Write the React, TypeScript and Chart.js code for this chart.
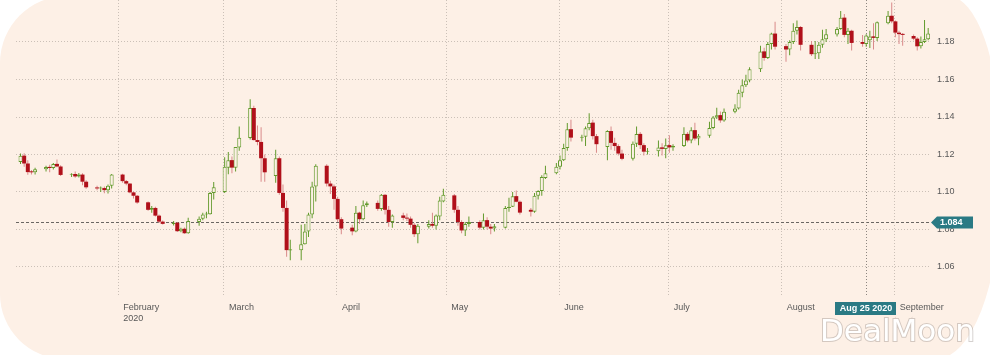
import React, { useEffect, useRef } from 'react';
import { Chart, registerables } from 'chart.js';

Chart.register(...registerables);

// ---------- data ----------
const dates = [
  '2020-01-06','2020-01-07','2020-01-08','2020-01-09','2020-01-10',
  '2020-01-13','2020-01-14','2020-01-15','2020-01-16','2020-01-17',
  '2020-01-20','2020-01-21','2020-01-22','2020-01-23','2020-01-24',
  '2020-01-27','2020-01-28','2020-01-29','2020-01-30','2020-01-31',
  '2020-02-03','2020-02-04','2020-02-05','2020-02-06','2020-02-07',
  '2020-02-10','2020-02-11','2020-02-12','2020-02-13','2020-02-14',
  '2020-02-17','2020-02-18','2020-02-19','2020-02-20','2020-02-21',
  '2020-02-24','2020-02-25','2020-02-26','2020-02-27','2020-02-28',
  '2020-03-02','2020-03-03','2020-03-04','2020-03-05','2020-03-06',
  '2020-03-09','2020-03-10','2020-03-11','2020-03-12','2020-03-13',
  '2020-03-16','2020-03-17','2020-03-18','2020-03-19','2020-03-20',
  '2020-03-23','2020-03-24','2020-03-25','2020-03-26','2020-03-27',
  '2020-03-30','2020-03-31','2020-04-01','2020-04-02','2020-04-03',
  '2020-04-06','2020-04-07','2020-04-08','2020-04-09','2020-04-10',
  '2020-04-13','2020-04-14','2020-04-15','2020-04-16','2020-04-17',
  '2020-04-20','2020-04-21','2020-04-22','2020-04-23','2020-04-24',
  '2020-04-27','2020-04-28','2020-04-29','2020-04-30','2020-05-01',
  '2020-05-04','2020-05-05','2020-05-06','2020-05-07','2020-05-08',
  '2020-05-11','2020-05-12','2020-05-13','2020-05-14','2020-05-15',
  '2020-05-18','2020-05-19','2020-05-20','2020-05-21','2020-05-22',
  '2020-05-25','2020-05-26','2020-05-27','2020-05-28','2020-05-29',
  '2020-06-01','2020-06-02','2020-06-03','2020-06-04','2020-06-05',
  '2020-06-08','2020-06-09','2020-06-10','2020-06-11','2020-06-12',
  '2020-06-15','2020-06-16','2020-06-17','2020-06-18','2020-06-19',
  '2020-06-22','2020-06-23','2020-06-24','2020-06-25','2020-06-26',
  '2020-06-29','2020-06-30','2020-07-01','2020-07-02','2020-07-03',
  '2020-07-06','2020-07-07','2020-07-08','2020-07-09','2020-07-10',
  '2020-07-13','2020-07-14','2020-07-15','2020-07-16','2020-07-17',
  '2020-07-20','2020-07-21','2020-07-22','2020-07-23','2020-07-24',
  '2020-07-27','2020-07-28','2020-07-29','2020-07-30','2020-07-31',
  '2020-08-03','2020-08-04','2020-08-05','2020-08-06','2020-08-07',
  '2020-08-10','2020-08-11','2020-08-12','2020-08-13','2020-08-14',
  '2020-08-17','2020-08-18','2020-08-19','2020-08-20','2020-08-21',
  '2020-08-24','2020-08-25','2020-08-26','2020-08-27','2020-08-28',
  '2020-08-31','2020-09-01','2020-09-02','2020-09-03','2020-09-04',
  '2020-09-07','2020-09-08','2020-09-09','2020-09-10','2020-09-11',
];

const open = [
  1.1160,1.1194,1.1152,1.1106,1.1105,
  1.1121,1.1134,1.1128,1.1150,1.1136,
  1.1092,1.1096,1.1083,1.1093,1.1055,
  1.1024,1.1019,1.1021,1.1010,1.1033,
  1.1093,1.1058,1.1045,1.0998,1.0980,
  1.0945,1.0905,1.0915,1.0874,1.0842,
  1.0830,1.0836,1.0791,1.0804,1.0780,
  1.0840,1.0858,1.0880,1.0882,1.0995,
  1.1000,1.1130,1.1170,1.1130,1.1238,
  1.1288,1.1448,1.1277,1.1267,1.1180,
  1.1085,1.1180,1.0995,1.0915,1.0688,
  1.0690,1.0722,1.0790,1.0880,1.1030,
  1.1140,1.1045,1.1030,1.0963,1.0855,
  1.0810,1.0790,1.0890,1.0855,1.0930,
  1.0942,1.0910,1.0985,1.0905,1.0840,
  1.0875,1.0862,1.0858,1.0825,1.0775,
  1.0815,1.0830,1.0820,1.0870,1.0950,
  1.0982,1.0905,1.0840,1.0795,1.0830,
  1.0840,1.0810,1.0850,1.0815,1.0805,
  1.0810,1.0915,1.0922,1.0978,1.0948,
  1.0905,1.0895,1.0980,1.1005,1.1075,
  1.1100,1.1135,1.1170,1.1235,1.1335,
  1.1290,1.1295,1.1340,1.1370,1.1298,
  1.1240,1.1325,1.1262,1.1245,1.1205,
  1.1177,1.1257,1.1310,1.1250,1.1215,
  1.1218,1.1238,1.1230,1.1250,1.1238,
  1.1245,1.1310,1.1275,1.1330,1.1285,
  1.1300,1.1342,1.1398,1.1410,1.1382,
  1.1428,1.1445,1.1530,1.1570,1.1595,
  1.1655,1.1750,1.1715,1.1790,1.1845,
  1.1778,1.1760,1.1800,1.1860,1.1880,
  1.1785,1.1735,1.1740,1.1785,1.1815,
  1.1840,1.1870,1.1930,1.1838,1.1860,
  1.1800,1.1790,1.1810,1.1830,1.1822,
  1.1900,1.1940,1.1910,1.1850,1.1842,
  1.1832,1.1818,1.1777,1.1800,1.1815,
];

const high = [
  1.1205,1.1207,1.1170,1.1118,1.1130,
  1.1140,1.1145,1.1155,1.1173,1.1143,
  1.1100,1.1110,1.1102,1.1100,1.1063,
  1.1034,1.1030,1.1030,1.1040,1.1096,
  1.1097,1.1064,1.1047,1.1002,1.0984,
  1.0950,1.0925,1.0922,1.0880,1.0848,
  1.0845,1.0840,1.0810,1.0811,1.0863,
  1.0870,1.0890,1.0895,1.1000,1.1053,
  1.1185,1.1213,1.1190,1.1240,1.1350,
  1.1495,1.1460,1.1355,1.1345,1.1200,
  1.1225,1.1190,1.1040,1.0955,1.0745,
  1.0825,1.0830,1.0890,1.1055,1.1148,
  1.1148,1.1060,1.1040,1.0975,1.0865,
  1.0825,1.0925,1.0895,1.0955,1.0950,
  1.0955,1.0990,1.0990,1.0925,1.0880,
  1.0890,1.0885,1.0870,1.0835,1.0830,
  1.0850,1.0890,1.0880,1.0975,1.1018,
  1.0990,1.0925,1.0850,1.0840,1.0870,
  1.0850,1.0885,1.0865,1.0830,1.0830,
  1.0925,1.0970,1.1000,1.1008,1.0955,
  1.0915,1.0995,1.1010,1.1090,1.1140,
  1.1155,1.1195,1.1257,1.1368,1.1385,
  1.1305,1.1350,1.1420,1.1385,1.1310,
  1.1330,1.1350,1.1290,1.1255,1.1225,
  1.1270,1.1350,1.1320,1.1260,1.1235,
  1.1275,1.1260,1.1285,1.1303,1.1255,
  1.1345,1.1320,1.1345,1.1370,1.1310,
  1.1375,1.1405,1.1450,1.1430,1.1445,
  1.1468,1.1545,1.1600,1.1625,1.1665,
  1.1780,1.1770,1.1800,1.1850,1.1908,
  1.1790,1.1810,1.1900,1.1915,1.1885,
  1.1805,1.1805,1.1800,1.1865,1.1870,
  1.1880,1.1965,1.1950,1.1875,1.1865,
  1.1838,1.1842,1.1860,1.1900,1.1910,
  1.1965,1.2011,1.1915,1.1860,1.1848,
  1.1840,1.1825,1.1830,1.1917,1.1875,
];

const low = [
  1.1150,1.1135,1.1092,1.1093,1.1093,
  1.1110,1.1105,1.1120,1.1132,1.1086,
  1.1080,1.1076,1.1078,1.1036,1.1018,
  1.1010,1.1000,1.0993,1.0992,1.1019,
  1.1050,1.1036,1.0993,1.0966,1.0938,
  1.0900,1.0890,1.0869,1.0835,1.0827,
  1.0822,1.0787,1.0786,1.0778,1.0777,
  1.0820,1.0850,1.0860,1.0880,1.0960,
  1.0995,1.1095,1.1100,1.1110,1.1220,
  1.1280,1.1275,1.1250,1.1055,1.1055,
  1.1050,1.0985,1.0895,1.0655,1.0636,
  1.0636,1.0720,1.0760,1.0860,1.0950,
  1.1030,1.0990,1.0905,1.0840,1.0775,
  1.0770,1.0785,1.0830,1.0850,1.0920,
  1.0900,1.0900,1.0880,1.0815,1.0810,
  1.0850,1.0845,1.0810,1.0760,1.0727,
  1.0805,1.0810,1.0800,1.0850,1.0945,
  1.0890,1.0820,1.0780,1.0765,1.0815,
  1.0800,1.0800,1.0800,1.0775,1.0790,
  1.0805,1.0895,1.0920,1.0945,1.0880,
  1.0870,1.0890,1.0960,1.0980,1.1070,
  1.1095,1.1120,1.1165,1.1220,1.1270,
  1.1270,1.1245,1.1330,1.1280,1.1210,
  1.1170,1.1225,1.1220,1.1195,1.1170,
  1.1168,1.1240,1.1230,1.1195,1.1200,
  1.1190,1.1195,1.1180,1.1210,1.1220,
  1.1240,1.1265,1.1260,1.1275,1.1250,
  1.1290,1.1335,1.1390,1.1370,1.1375,
  1.1420,1.1440,1.1505,1.1560,1.1585,
  1.1640,1.1700,1.1710,1.1760,1.1760,
  1.1695,1.1730,1.1790,1.1840,1.1755,
  1.1725,1.1710,1.1710,1.1770,1.1800,
  1.1830,1.1865,1.1825,1.1790,1.1755,
  1.1775,1.1775,1.1768,1.1760,1.1805,
  1.1895,1.1900,1.1825,1.1790,1.1780,
  1.1810,1.1755,1.1765,1.1795,1.1810,
];

const close = [
  1.1194,1.1152,1.1106,1.1105,1.1121,
  1.1134,1.1128,1.1150,1.1136,1.1091,
  1.1096,1.1083,1.1093,1.1055,1.1025,
  1.1019,1.1021,1.1010,1.1033,1.1093,
  1.1058,1.1045,1.0998,1.0980,1.0944,
  1.0905,1.0915,1.0874,1.0842,1.0830,
  1.0836,1.0791,1.0804,1.0780,1.0846,
  1.0858,1.0880,1.0885,1.0995,1.1025,
  1.1135,1.1170,1.1130,1.1240,1.1290,
  1.1448,1.1277,1.1267,1.1180,1.1105,
  1.1180,1.0995,1.0915,1.0690,1.0695,
  1.0722,1.0790,1.0880,1.1030,1.1140,
  1.1045,1.1030,1.0963,1.0855,1.0805,
  1.0790,1.0890,1.0855,1.0930,1.0940,
  1.0910,1.0985,1.0905,1.0840,1.0875,
  1.0862,1.0858,1.0825,1.0775,1.0820,
  1.0830,1.0820,1.0875,1.0955,1.0985,
  1.0905,1.0840,1.0795,1.0830,1.0840,
  1.0810,1.0850,1.0815,1.0805,1.0818,
  1.0915,1.0922,1.0978,1.0948,1.0890,
  1.0895,1.0980,1.1005,1.1080,1.1100,
  1.1135,1.1170,1.1235,1.1335,1.1290,
  1.1295,1.1340,1.1368,1.1298,1.1255,
  1.1325,1.1262,1.1245,1.1205,1.1177,
  1.1257,1.1310,1.1250,1.1215,1.1218,
  1.1238,1.1230,1.1250,1.1238,1.1245,
  1.1310,1.1275,1.1330,1.1285,1.1300,
  1.1342,1.1398,1.1410,1.1382,1.1428,
  1.1445,1.1530,1.1570,1.1595,1.1655,
  1.1750,1.1715,1.1790,1.1845,1.1775,
  1.1760,1.1800,1.1860,1.1880,1.1785,
  1.1735,1.1740,1.1785,1.1815,1.1842,
  1.1870,1.1930,1.1838,1.1860,1.1795,
  1.1790,1.1835,1.1830,1.1822,1.1905,
  1.1940,1.1910,1.1850,1.1842,1.1838,
  1.1818,1.1777,1.1800,1.1815,1.1845,
];

const monthTickDates = ['2020-02-01','2020-03-01','2020-04-01','2020-05-01','2020-06-01','2020-07-01','2020-08-01','2020-09-01'];
const monthTickLabels: (string | string[])[] = [['February', '2020'], 'March', 'April', 'May', 'June', 'July', 'August', 'September'];
const priceTicks = [1.06, 1.08, 1.10, 1.12, 1.14, 1.16, 1.18];
const referencePrice = 1.084;
const highlightDate = '2020-08-25';
const highlightLabel = 'Aug 25 2020';
const watermark = 'DealMoon';

// ---------- style ----------
const BG = '#fdf0e6';
const UP = '#629a2c';
const DOWN = '#b0101a';
const DOWN_WICK = '#d98a8a';
const GRID = '#cbc0b7';
const TEXT = '#585858';
const BADGE = '#2a7a84';
const FONT = '"Liberation Sans", Arial, sans-serif';

const EPOCH = Date.parse('2020-01-01T00:00:00Z');
const dayOf = (s: string) => (Date.parse(s + 'T00:00:00Z') - EPOCH) / 86400000;
const SESSION_SHIFT = 0.8; // candles plotted at session open, before calendar midnight
const candleX = (s: string) => dayOf(s) - SESSION_SHIFT;
const VIEW_START = 2.96;
const VIEW_END = 253.7;
const PRICE_MIN = 1.044;
const PRICE_MAX = 1.2024;

const monthTicks = monthTickDates.map(dayOf);
const isUp = close.map((c, i) => c >= open[i]);

const extras = {
  id: 'extras',
  beforeDatasetsDraw(chart: any) {
    const { ctx, chartArea: a, scales } = chart;
    const x = scales.x, y = scales.y;
    ctx.save();
    const yy = Math.round(y.getPixelForValue(referencePrice)) + 0.5;
    ctx.strokeStyle = '#6a6662';
    ctx.lineWidth = 1;
    ctx.setLineDash([3, 2]);
    ctx.beginPath();
    ctx.moveTo(a.left, yy);
    ctx.lineTo(a.right, yy);
    ctx.stroke();
    const xx = Math.round(x.getPixelForValue(candleX(highlightDate))) + 0.5;
    ctx.strokeStyle = '#8d8680';
    ctx.setLineDash([1, 2]);
    ctx.beginPath();
    ctx.moveTo(xx, a.top);
    ctx.lineTo(xx, a.bottom);
    ctx.stroke();
    ctx.restore();
  },
  afterDraw(chart: any) {
    const { ctx, chartArea: a, scales } = chart;
    const x = scales.x, y = scales.y;
    ctx.save();
    // price badge
    const yc = Math.round(y.getPixelForValue(referencePrice)) + 0.5;
    const left = a.right + 1;
    ctx.fillStyle = BADGE;
    ctx.beginPath();
    ctx.moveTo(left, yc);
    ctx.lineTo(left + 6, yc - 6);
    ctx.lineTo(left + 42, yc - 6);
    ctx.lineTo(left + 42, yc + 6);
    ctx.lineTo(left + 6, yc + 6);
    ctx.closePath();
    ctx.fill();
    ctx.fillStyle = '#ffffff';
    ctx.font = 'bold 9px ' + FONT;
    ctx.textAlign = 'left';
    ctx.textBaseline = 'middle';
    ctx.fillText(referencePrice.toFixed(3), left + 9, yc + 0.5);
    // date badge
    const xc = Math.round(x.getPixelForValue(candleX(highlightDate)));
    ctx.fillStyle = BADGE;
    ctx.fillRect(xc - 31, a.bottom + 5, 61, 13);
    ctx.fillStyle = '#ffffff';
    ctx.textAlign = 'center';
    ctx.fillText(highlightLabel, xc, a.bottom + 12);
    // watermark
    ctx.font = '31px "DejaVu Sans", sans-serif';
    ctx.textAlign = 'left';
    ctx.textBaseline = 'alphabetic';
    ctx.lineWidth = 2;
    ctx.strokeStyle = 'rgba(150,140,134,0.4)';
    ctx.strokeText(watermark, 820, 341);
    ctx.fillStyle = '#ffffff';
    ctx.fillText(watermark, 820, 341);
    ctx.restore();
  },
};

export default function App() {
  const ref = useRef<HTMLCanvasElement>(null);
  useEffect(() => {
    document.body.style.margin = '0';
    const xs = dates.map(candleX);
    const chart = new Chart(ref.current as HTMLCanvasElement, {
      type: 'bar',
      data: {
        datasets: [
          {
            label: 'body',
            order: 0,
            data: dates.map((d, i) => ({ x: xs[i], y: [open[i], close[i]] })),
            backgroundColor: isUp.map((u) => (u ? BG : DOWN)),
            borderColor: isUp.map((u) => (u ? UP : DOWN)),
            borderWidth: isUp.map((u) => (u ? 1 : 0)),
            borderSkipped: false,
            minBarLength: 1,
            grouped: false,
            categoryPercentage: 1,
            barPercentage: 1.1,
            maxBarThickness: 4,
            inflateAmount: 0,
          } as any,
          {
            label: 'wick',
            order: 1,
            data: dates.map((d, i) => ({ x: xs[i], y: [low[i], high[i]] })),
            backgroundColor: isUp.map((u) => (u ? UP : DOWN_WICK)),
            borderWidth: 0,
            grouped: false,
            categoryPercentage: 1,
            barPercentage: 1,
            maxBarThickness: 1,
            inflateAmount: 0,
          } as any,
        ],
      },
      options: {
        animation: false,
        responsive: false,
        devicePixelRatio: 1,
        events: [],
        layout: { padding: { left: 16, top: 0, right: 0, bottom: 0 } },
        plugins: { legend: { display: false }, tooltip: { enabled: false } },
        scales: {
          x: {
            type: 'linear',
            min: VIEW_START,
            max: VIEW_END,
            offset: false,
            grid: { color: GRID, drawTicks: false, offset: false },
            border: { display: false, dash: [1, 2] },
            ticks: {
              autoSkip: false,
              maxRotation: 0,
              align: 'start',
              labelOffset: 5,
              padding: 5,
              color: TEXT,
              font: { family: FONT, size: 9 },
              callback: (v: any) => {
                const i = monthTicks.indexOf(Number(v));
                return i >= 0 ? monthTickLabels[i] : '';
              },
            },
            afterBuildTicks: (s: any) => {
              s.ticks = monthTicks.map((v) => ({ value: v }));
            },
            afterFit: (s: any) => {
              s.height = 58;
              s.paddingLeft = 0;
              s.paddingRight = 0;
            },
          },
          y: {
            type: 'linear',
            position: 'right',
            min: PRICE_MIN,
            max: PRICE_MAX,
            beginAtZero: false,
            grid: { color: GRID, drawTicks: false },
            border: { display: false, dash: [1, 2] },
            ticks: {
              padding: 7,
              color: TEXT,
              font: { family: FONT, size: 9 },
              callback: (v: any) => Number(v).toFixed(2),
            },
            afterBuildTicks: (s: any) => {
              s.ticks = priceTicks.map((v) => ({ value: v }));
            },
            afterFit: (s: any) => {
              s.width = 60;
              s.paddingTop = 0;
              s.paddingBottom = 0;
            },
          },
        },
      } as any,
      plugins: [extras],
    });
    return () => chart.destroy();
  }, []);

  return (
    <div style={{ position: 'fixed', left: 0, top: 0, width: 990, height: 355, overflow: 'hidden', background: '#ffffff' }}>
      <div
        style={{
          position: 'absolute',
          left: 0,
          top: -4,
          width: 1000,
          height: 363,
          background: BG,
          borderTopLeftRadius: '67px',
          borderTopRightRadius: '52px 148px',
          borderBottomRightRadius: '64px 165px',
          borderBottomLeftRadius: '65px',
        }}
      />
      <canvas ref={ref} width={990} height={355} style={{ position: 'absolute', left: 0, top: 0, width: 990, height: 355 }} />
    </div>
  );
}
